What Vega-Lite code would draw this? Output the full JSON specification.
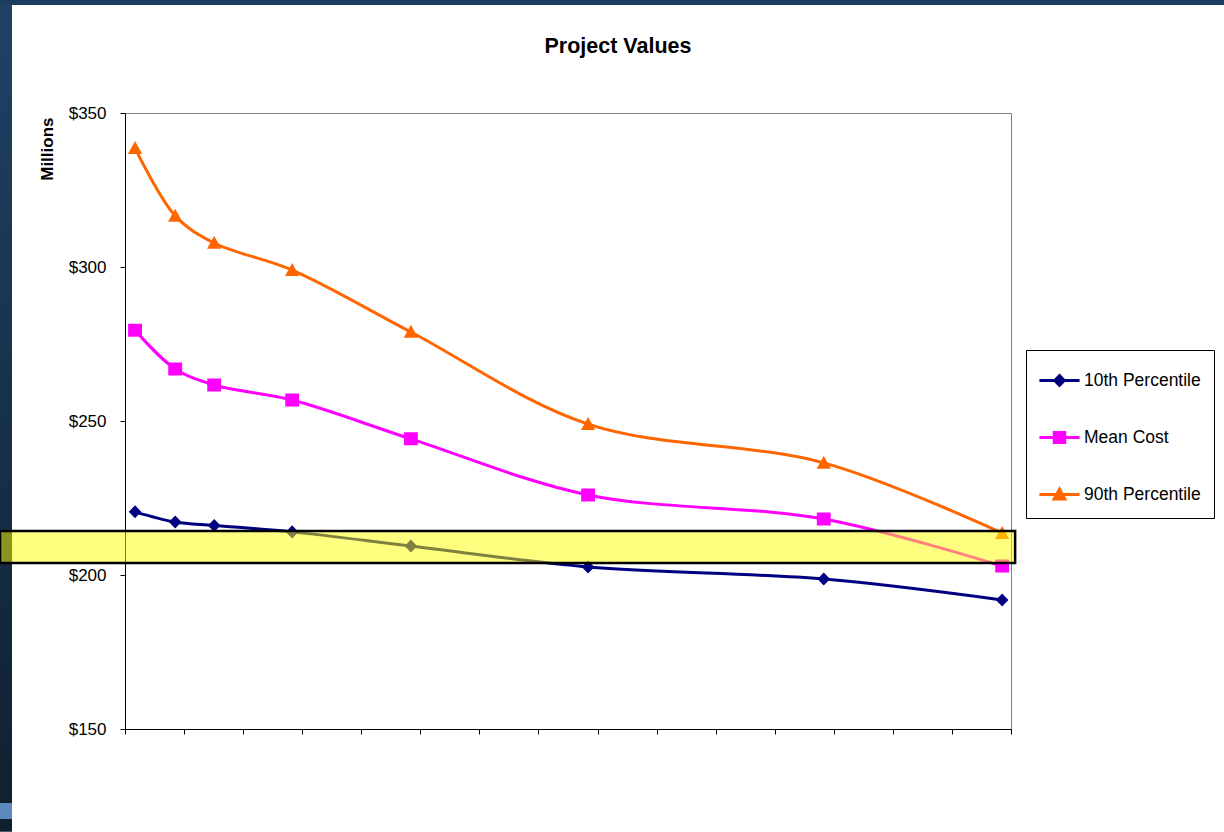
{
  "$schema": "https://vega.github.io/schema/vega-lite/v6.json",
  "width": 886,
  "height": 616,
  "autosize": {"type": "none"},
  "padding": {"left": 125, "top": 113, "right": 213, "bottom": 103},
  "background": "white",
  "config": {"font": "Liberation Sans", "view": {"stroke": "#808080", "strokeWidth": 1}},
  "title": {"text": "Project Values", "fontSize": 21.5, "fontWeight": "bold", "font": "Liberation Sans", "color": "#000000", "anchor": "middle", "frame": "group", "dx": 50, "dy": 75, "offset": 0, "baseline": "alphabetic"},
  "data": {
    "values": [
      {"series": "10th Percentile", "x": 0.17, "value": 220.5},
      {"series": "10th Percentile", "x": 0.85, "value": 217.2},
      {"series": "10th Percentile", "x": 1.51, "value": 216.1},
      {"series": "10th Percentile", "x": 2.83, "value": 214.0},
      {"series": "10th Percentile", "x": 4.84, "value": 209.4},
      {"series": "10th Percentile", "x": 7.84, "value": 202.6},
      {"series": "10th Percentile", "x": 11.83, "value": 198.7},
      {"series": "10th Percentile", "x": 14.85, "value": 191.9},
      {"series": "Mean Cost", "x": 0.17, "value": 279.5},
      {"series": "Mean Cost", "x": 0.85, "value": 266.9},
      {"series": "Mean Cost", "x": 1.51, "value": 261.7},
      {"series": "Mean Cost", "x": 2.83, "value": 256.8},
      {"series": "Mean Cost", "x": 4.84, "value": 244.2},
      {"series": "Mean Cost", "x": 7.84, "value": 226.0},
      {"series": "Mean Cost", "x": 11.83, "value": 218.2},
      {"series": "Mean Cost", "x": 14.85, "value": 202.9},
      {"series": "90th Percentile", "x": 0.17, "value": 338.6},
      {"series": "90th Percentile", "x": 0.85, "value": 316.6},
      {"series": "90th Percentile", "x": 1.51, "value": 307.8},
      {"series": "90th Percentile", "x": 2.83, "value": 299.0},
      {"series": "90th Percentile", "x": 4.84, "value": 278.9},
      {"series": "90th Percentile", "x": 7.84, "value": 249.0},
      {"series": "90th Percentile", "x": 11.83, "value": 236.4},
      {"series": "90th Percentile", "x": 14.85, "value": 213.6}
    ]
  },
  "layer": [
    {
      "data": {"values": [{"part": "left frame"}]},
      "mark": {"type": "rect", "fill": {"gradient": "linear", "x1": 0, "y1": 0, "x2": 0, "y2": 1, "stops": [{"offset": 0, "color": "#1f4266"}, {"offset": 1, "color": "#0f1f2e"}]}},
      "encoding": {
        "x": {"datum": -2.116, "type": "quantitative", "scale": {"domain": [0, 15], "nice": false, "zero": false}},
        "x2": {"datum": -1.913},
        "y": {"datum": 386.7, "type": "quantitative", "scale": {"domain": [150, 350], "nice": false, "zero": false}},
        "y2": {"datum": 116.6}
      }
    },
    {
      "data": {"values": [{"part": "top frame"}]},
      "mark": {"type": "rect", "fill": "#1e3d5e"},
      "encoding": {
        "x": {"datum": -2.116, "type": "quantitative", "scale": {"domain": [0, 15], "nice": false, "zero": false}},
        "x2": {"datum": 18.61},
        "y": {"datum": 386.7, "type": "quantitative", "scale": {"domain": [150, 350], "nice": false, "zero": false}},
        "y2": {"datum": 385.1}
      }
    },
    {
      "data": {"values": [{"part": "frame tab"}]},
      "mark": {"type": "rect", "fill": "#5b8bbd"},
      "encoding": {
        "x": {"datum": -2.116, "type": "quantitative", "scale": {"domain": [0, 15], "nice": false, "zero": false}},
        "x2": {"datum": -1.913},
        "y": {"datum": 125.97, "type": "quantitative", "scale": {"domain": [150, 350], "nice": false, "zero": false}},
        "y2": {"datum": 120.78}
      }
    },
    {
      "mark": {"type": "line", "interpolate": "catmull-rom", "strokeWidth": 3},
      "encoding": {
        "x": {"field": "x", "type": "quantitative", "scale": {"domain": [0, 15], "nice": false, "zero": false},
              "axis": {"values": [0,1,2,3,4,5,6,7,8,9,10,11,12,13,14,15], "labels": false, "ticks": true, "tickSize": 5, "tickColor": "#000000", "domainColor": "#000000", "grid": false, "title": null}},
        "y": {"field": "value", "type": "quantitative", "scale": {"domain": [150, 350], "nice": false, "zero": false},
              "axis": {"values": [150, 200, 250, 300, 350], "labelExpr": "'$' + datum.value", "labelFontSize": 17, "labelColor": "#000000", "labelPadding": 14, "tickSize": 5, "tickColor": "#000000", "domainColor": "#000000", "gridColor": "#000000", "gridWidth": 1, "gridOpacity": 1, "title": "Millions", "titleFontSize": 17, "titleFontWeight": "bold", "titleColor": "#000000", "titleX": -78, "titleY": 4, "titleAngle": -90, "titleAlign": "right", "titleBaseline": "middle"}},
        "color": {"field": "series", "type": "nominal", "scale": {"domain": ["10th Percentile", "Mean Cost", "90th Percentile"], "range": ["#000080", "#ff00ff", "#ff6600"]},
                  "legend": {"orient": "none", "legendX": 901, "legendY": 237, "title": null, "labelFontSize": 17.5, "labelColor": "#000000", "labelFont": "Liberation Sans", "symbolSize": 1000, "strokeColor": "#000000", "fillColor": "#ffffff", "padding": 13, "rowPadding": 28, "labelOffset": 7, "symbolOffset": 3, "symbolStrokeWidth": 3,
                             "encode": {"symbols": {"update": {"fill": {"scale": "color", "field": "value"}, "stroke": {"scale": "color", "field": "value"}, "strokeWidth": {"value": 3}, "size": {"value": 1000}, "opacity": {"value": 1}}}}}}
      }
    },
    {
      "mark": {"type": "point", "filled": true, "size": 1764, "opacity": 1, "strokeWidth": 0},
      "encoding": {
        "x": {"field": "x", "type": "quantitative", "scale": {"domain": [0, 15], "nice": false, "zero": false}},
        "y": {"field": "value", "type": "quantitative", "scale": {"domain": [150, 350], "nice": false, "zero": false}},
        "color": {"field": "series", "type": "nominal", "scale": {"domain": ["10th Percentile", "Mean Cost", "90th Percentile"], "range": ["#000080", "#ff00ff", "#ff6600"]},
                  "legend": {"orient": "none", "legendX": 901, "legendY": 237, "title": null, "labelFontSize": 17.5, "labelColor": "#000000", "labelFont": "Liberation Sans", "symbolSize": 1000, "strokeColor": "#000000", "fillColor": "#ffffff", "padding": 13, "rowPadding": 28, "labelOffset": 7, "symbolOffset": 3, "symbolStrokeWidth": 3,
                             "encode": {"symbols": {"update": {"fill": {"scale": "color", "field": "value"}, "stroke": {"scale": "color", "field": "value"}, "strokeWidth": {"value": 3}, "size": {"value": 1000}, "opacity": {"value": 1}}}}}},
        "shape": {"field": "series", "type": "nominal", "scale": {"domain": ["10th Percentile", "Mean Cost", "90th Percentile"], "range": ["M-1.27,0H1.27M0,-0.31L0.3,0L0,0.31L-0.3,0Z", "M-1.27,0H1.27M-0.33,-0.31H0.33V0.31H-0.33Z", "M-1.27,0H1.27M0,-0.34L0.34,0.28H-0.34Z"]},
                  "legend": {"orient": "none", "legendX": 901, "legendY": 237, "title": null, "labelFontSize": 17.5, "labelColor": "#000000", "labelFont": "Liberation Sans", "symbolSize": 1000, "strokeColor": "#000000", "fillColor": "#ffffff", "padding": 13, "rowPadding": 28, "labelOffset": 7, "symbolOffset": 3, "symbolStrokeWidth": 3,
                             "encode": {"symbols": {"update": {"fill": {"scale": "color", "field": "value"}, "stroke": {"scale": "color", "field": "value"}, "strokeWidth": {"value": 3}, "size": {"value": 1000}, "opacity": {"value": 1}}}}}}
      }
    },
    {
      "data": {"values": [{"part": "highlight band"}]},
      "mark": {"type": "rect", "fill": "#ffff00", "fillOpacity": 0.5, "stroke": "#000000", "strokeWidth": 2.5},
      "encoding": {
        "x": {"datum": -2.116, "type": "quantitative", "scale": {"domain": [0, 15], "nice": false, "zero": false}},
        "x2": {"datum": 15.07},
        "y": {"datum": 214.3, "type": "quantitative", "scale": {"domain": [150, 350], "nice": false, "zero": false}},
        "y2": {"datum": 203.9}
      }
    }
  ]
}
